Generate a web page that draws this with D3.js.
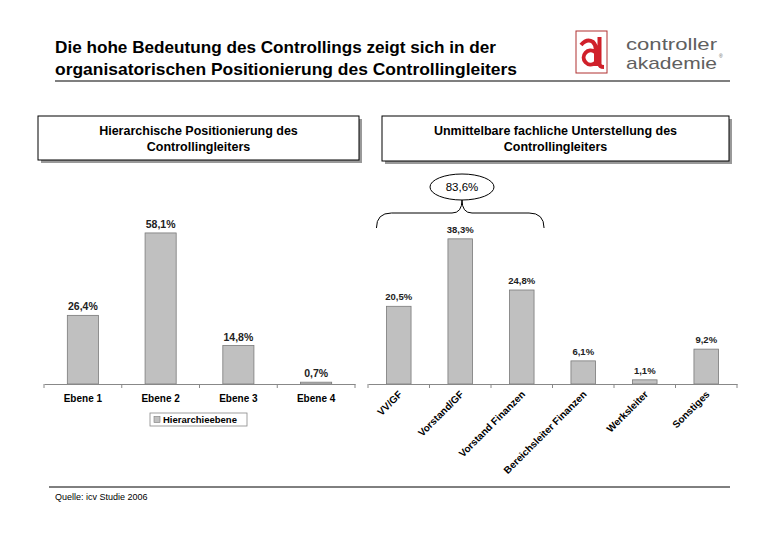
<!DOCTYPE html>
<html>
<head>
<meta charset="utf-8">
<script src="https://cdn.jsdelivr.net/npm/d3@7"></script>
<style>
  body { margin: 0; background: #fff; }
  text { font-family: "Liberation Sans", Arial, sans-serif; }
</style>
</head>
<body>
<div id="chart"></div>
<script>
// data
var titleLines = ["Die hohe Bedeutung des Controllings zeigt sich in der",
                  "organisatorischen Positionierung des Controllingleiters"];
var leftTitle = ["Hierarchische Positionierung des", "Controllingleiters"];
var rightTitle = ["Unmittelbare fachliche Unterstellung des", "Controllingleiters"];

var ebenen = ["Ebene 1", "Ebene 2", "Ebene 3", "Ebene 4"];
var ebenenWerte = [26.4, 58.1, 14.8, 0.7];
var legendLabel = "Hierarchieebene";

var unterstellung = ["VV/GF", "Vorstand/GF", "Vorstand Finanzen", "Bereichsleiter Finanzen", "Werksleiter", "Sonstiges"];
var unterstellungWerte = [20.5, 38.3, 24.8, 6.1, 1.1, 9.2];
var summeLabel = "83,6%";
var quelle = "Quelle: icv Studie 2006";

var fmt = function(v) { return d3.format(".1f")(v).replace(".", ",") + "%"; };

var width = 780, height = 540;
var svg = d3.select("#chart").append("svg")
    .attr("width", width)
    .attr("height", height);

// header
svg.selectAll(".title")
    .data(titleLines)
  .enter().append("text")
    .attr("x", 55)
    .attr("y", function(d, i) { return 53 + i * 22; })
    .attr("font-size", 17)
    .attr("font-weight", "bold")
    .attr("textLength", function(d, i) { return i == 0 ? 441 : 462; })
    .attr("lengthAdjust", "spacingAndGlyphs")
    .text(function(d) { return d; });

svg.append("line")
    .attr("x1", 55).attr("x2", 730)
    .attr("y1", 81).attr("y2", 81)
    .style("stroke", "#000").style("stroke-width", 1.2);

// logo
var logo = svg.append("g");
logo.append("rect")
    .attr("x", 576).attr("y", 31).attr("width", 31).attr("height", 42)
    .style("fill", "#fff").style("stroke", "#b03030").style("stroke-width", 1);
logo.append("path")
    .attr("d", "M581,45 Q587,38 593,42 Q596,45 596,50 L596,66" +
               " M595,52 A7,7 0 1,0 595,63" +
               " M599.5,37 L599.5,64 Q599.5,67 604,67")
    .style("fill", "none").style("stroke", "#d0202a").style("stroke-width", 4);
logo.selectAll("text.logo")
    .data(["controller", "akademie"])
  .enter().append("text")
    .attr("x", 626)
    .attr("y", function(d, i) { return 50 + i * 19; })
    .attr("font-size", 17)
    .attr("fill", "#606060")
    .attr("textLength", 91)
    .attr("lengthAdjust", "spacingAndGlyphs")
    .text(function(d) { return d; });
logo.append("text")
    .attr("x", 719).attr("y", 58).attr("font-size", 5).attr("fill", "#606060")
    .text("®");

// title boxes
function titleBox(x, y, w, h, lines) {
  svg.append("rect")
      .attr("x", x + 3).attr("y", y + 3).attr("width", w).attr("height", h)
      .style("fill", "#999");
  svg.append("rect")
      .attr("x", x).attr("y", y).attr("width", w).attr("height", h)
      .style("fill", "#fff").style("stroke", "#000").style("stroke-width", 1);
  svg.selectAll(null)
      .data(lines)
    .enter().append("text")
      .attr("x", x + w / 2)
      .attr("y", function(d, i) { return y + 19 + i * 16; })
      .attr("text-anchor", "middle")
      .attr("font-size", 12.5)
      .attr("font-weight", "bold")
      .text(function(d) { return d; });
}
titleBox(38, 116, 321, 44, leftTitle);
titleBox(382, 116, 347, 45, rightTitle);

var barFill = "#c0c0c0", barStroke = "#7a7a7a";

// left chart
var x1 = d3.scaleBand().domain(ebenen).range([44, 355]).paddingInner(0.6).paddingOuter(0.3);
var y1 = d3.scaleLinear().domain([0, 60]).range([384, 228]);

var g1 = svg.append("g");
g1.selectAll("rect")
    .data(ebenenWerte)
  .enter().append("rect")
    .attr("x", function(d, i) { return x1(ebenen[i]); })
    .attr("y", function(d) { return y1(d); })
    .attr("width", x1.bandwidth())
    .attr("height", function(d) { return y1(0) - y1(d); })
    .style("fill", barFill).style("stroke", barStroke).style("stroke-width", 0.8);
g1.selectAll("text.val")
    .data(ebenenWerte)
  .enter().append("text")
    .attr("x", function(d, i) { return x1(ebenen[i]) + x1.bandwidth() / 2; })
    .attr("y", function(d) { return y1(d) - 5; })
    .attr("text-anchor", "middle")
    .attr("font-size", 10.5)
    .attr("font-weight", "bold")
    .attr("fill", "#222")
    .text(fmt);

var ax1 = g1.append("g")
    .attr("transform", "translate(0," + y1(0) + ")")
    .call(d3.axisBottom(x1).tickSize(0).tickPadding(11));
ax1.select(".domain").style("stroke", "#888");
ax1.selectAll("text")
    .attr("font-size", 10).attr("font-weight", "bold")
    .attr("font-family", "'Liberation Sans', Arial, sans-serif").attr("fill", "#000");
ax1.selectAll(".sep")
    .data(d3.range(ebenen.length + 1))
  .enter().append("line")
    .attr("x1", function(i) { return 44 + i * (311 / ebenen.length); })
    .attr("x2", function(i) { return 44 + i * (311 / ebenen.length); })
    .attr("y1", 0).attr("y2", 4)
    .style("stroke", "#888");

// legend
var leg = svg.append("g").attr("transform", "translate(150,413)");
leg.append("rect").attr("width", 97).attr("height", 13)
    .style("fill", "#fff").style("stroke", "#888").style("stroke-width", 0.8);
leg.append("rect").attr("x", 4).attr("y", 3.5).attr("width", 6).attr("height", 6)
    .style("fill", barFill).style("stroke", barStroke).style("stroke-width", 0.6);
leg.append("text").attr("x", 13).attr("y", 10)
    .attr("font-size", 9.5).attr("font-weight", "bold")
    .text(legendLabel);

// right chart
var x2 = d3.scaleBand().domain(unterstellung).range([368, 737]).paddingInner(0.6).paddingOuter(0.3);
var y2 = d3.scaleLinear().domain([0, 40]).range([384, 232.4]);

var g2 = svg.append("g");
g2.selectAll("rect")
    .data(unterstellungWerte)
  .enter().append("rect")
    .attr("x", function(d, i) { return x2(unterstellung[i]); })
    .attr("y", function(d) { return y2(d); })
    .attr("width", x2.bandwidth())
    .attr("height", function(d) { return y2(0) - y2(d); })
    .style("fill", barFill).style("stroke", barStroke).style("stroke-width", 0.8);
g2.selectAll("text.val")
    .data(unterstellungWerte)
  .enter().append("text")
    .attr("x", function(d, i) { return x2(unterstellung[i]) + x2.bandwidth() / 2; })
    .attr("y", function(d) { return y2(d) - 6; })
    .attr("text-anchor", "middle")
    .attr("font-size", 9.5)
    .attr("font-weight", "bold")
    .attr("fill", "#222")
    .text(fmt);

var ax2 = g2.append("g")
    .attr("transform", "translate(0," + y2(0) + ")")
    .call(d3.axisBottom(x2).tickSize(0).tickPadding(0));
ax2.select(".domain").style("stroke", "#888");
ax2.selectAll("text")
    .attr("font-size", 10).attr("font-weight", "bold")
    .attr("font-family", "'Liberation Sans', Arial, sans-serif").attr("fill", "#000")
    .attr("text-anchor", "end")
    .attr("dy", 0)
    .attr("transform", "translate(4,11) rotate(-45)");
ax2.selectAll(".sep")
    .data(d3.range(unterstellung.length + 1))
  .enter().append("line")
    .attr("x1", function(i) { return 368 + i * (369 / unterstellung.length); })
    .attr("x2", function(i) { return 368 + i * (369 / unterstellung.length); })
    .attr("y1", 0).attr("y2", 4)
    .style("stroke", "#888");

// brace over the first three bars
var bx0 = x2(unterstellung[0]) - 10;
var bx1 = x2(unterstellung[2]) + x2.bandwidth() + 10;
var bm = 462, by = 213, bTop = 200, bEnd = 228;
svg.append("path")
    .attr("d", "M" + bx0 + "," + bEnd +
               " Q" + bx0 + "," + by + " " + (bx0 + 15) + "," + by +
               " L" + (bm - 10) + "," + by +
               " Q" + bm + "," + by + " " + bm + "," + bTop +
               " Q" + bm + "," + by + " " + (bm + 10) + "," + by +
               " L" + (bx1 - 15) + "," + by +
               " Q" + bx1 + "," + by + " " + bx1 + "," + bEnd)
    .style("fill", "none").style("stroke", "#000").style("stroke-width", 1);

svg.append("ellipse")
    .attr("cx", bm).attr("cy", 187).attr("rx", 32).attr("ry", 13)
    .style("fill", "#fff").style("stroke", "#000").style("stroke-width", 1);
svg.append("text")
    .attr("x", bm).attr("y", 191)
    .attr("text-anchor", "middle")
    .attr("font-size", 11.5)
    .text(summeLabel);

// footer
svg.append("line")
    .attr("x1", 49).attr("x2", 730)
    .attr("y1", 487).attr("y2", 487)
    .style("stroke", "#000").style("stroke-width", 1);
svg.append("text")
    .attr("x", 55).attr("y", 500)
    .attr("font-size", 9)
    .text(quelle);
</script>
</body>
</html>
